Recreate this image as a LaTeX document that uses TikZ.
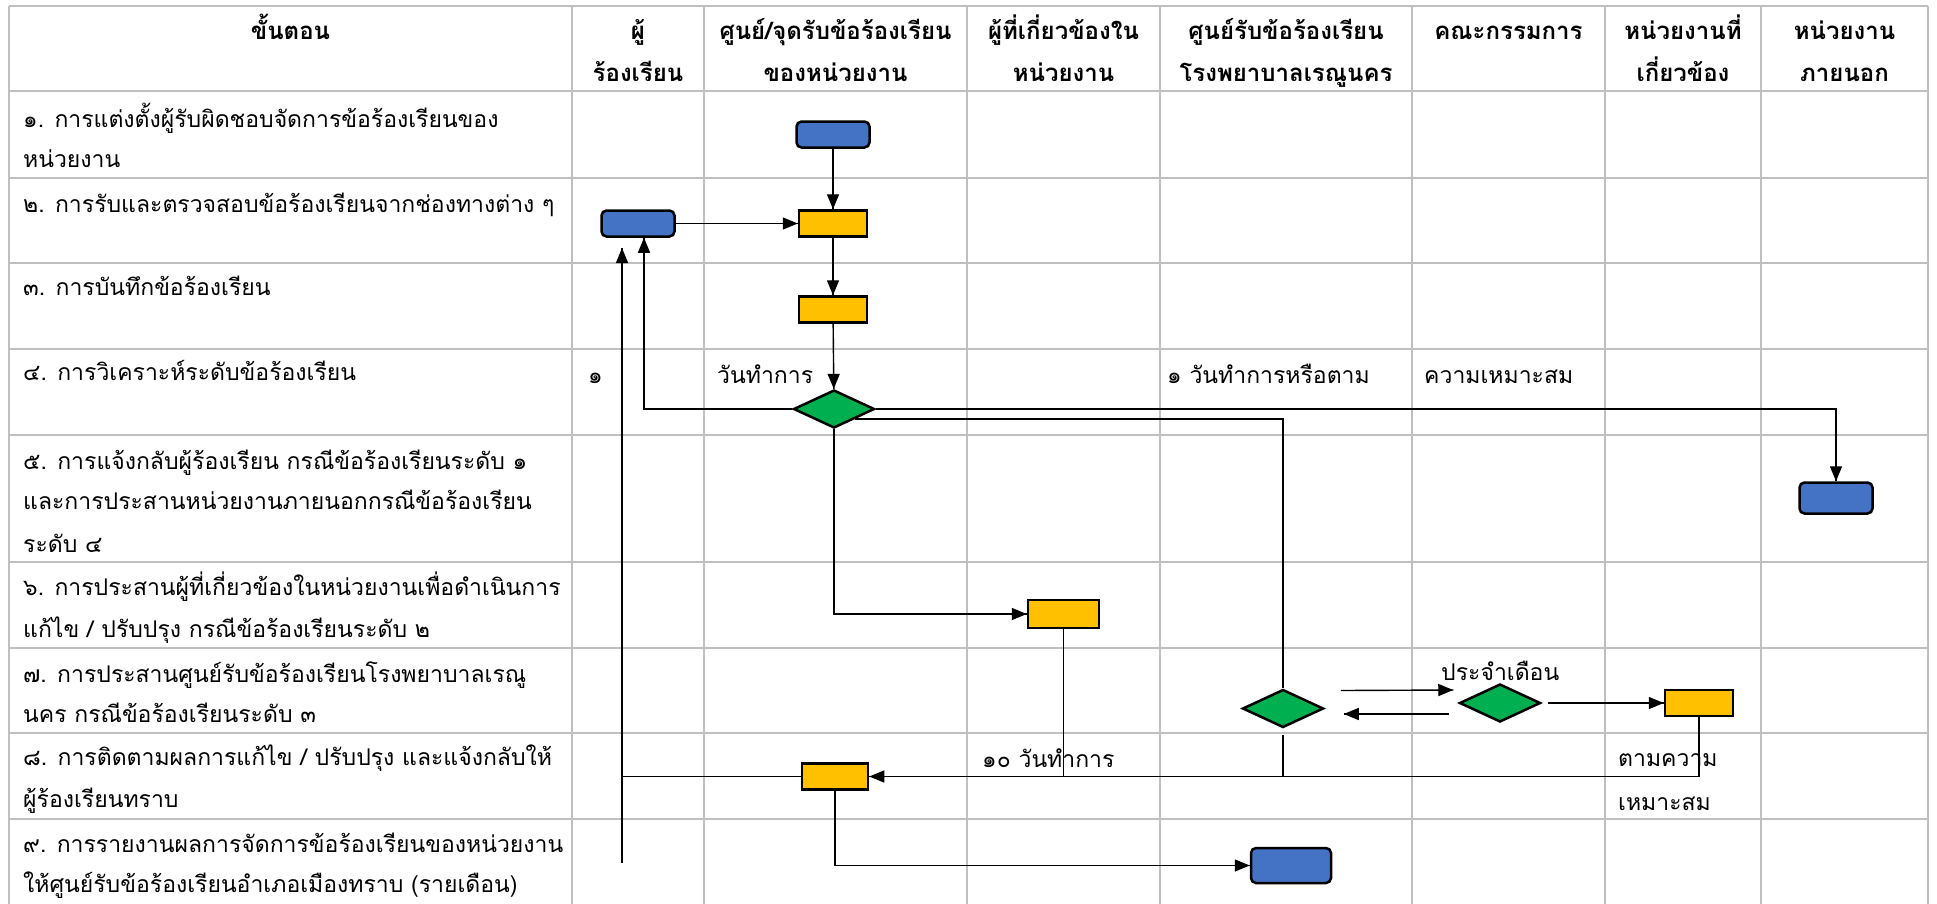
\documentclass[tikz,border=0pt]{standalone}
\usepackage{fontspec}
\newfontfamily\thaifont[Script=Thai]{Loma}
\usetikzlibrary{shapes.geometric, arrows.meta, decorations.markings, calc}
\definecolor{boxblue}{HTML}{4472C4}
\definecolor{boxyellow}{HTML}{FFC000}
\definecolor{boxgreen}{HTML}{00B050}
\definecolor{gridgray}{HTML}{BFBFBF}

\begin{document}
\begin{tikzpicture}[x=1pt, y=-1pt]
	\tikzstyle{grid_line} = [draw=gridgray, line width=2pt]
	\tikzstyle{head_text} = [font=\thaifont\bfseries\fontsize{24}{28}\selectfont, inner sep=0pt, anchor=base]
	\tikzstyle{row_text} = [font=\thaifont\fontsize{23}{27}\selectfont, inner sep=0pt, anchor=base west]
	\tikzstyle{blue_box} = [draw, line width=2.5pt, fill=boxblue, rounded corners=5pt, minimum width=73pt, minimum height=26pt, inner sep=0pt]
	\tikzstyle{yellow_box} = [draw, line width=2.5pt, fill=boxyellow, minimum width=68pt, minimum height=26pt, inner sep=0pt]
	\tikzstyle{green_dia} = [draw, line width=2.5pt, fill=boxgreen, diamond, minimum width=81pt, minimum height=38pt, inner sep=0pt]
	\tikzstyle{flow_arrow} = [line width=1.4pt, decoration={markings,mark=at position 1 with {\arrow{Triangle[length=15pt,width=12pt]}}},postaction={decorate}]
	\useasboundingbox (0,0) rectangle (1937,903);
	\fill[white] (0,0) rectangle (1937,903);

	% Table grid
	\foreach \gx in {9,572,704,967,1160,1412,1605,1761,1928}
		\draw[grid_line] (\gx,6) -- (\gx,910);
	\foreach \gy in {6,91,178,263,349,435,562,648,733,819}
		\draw[grid_line] (9,\gy) -- (1928,\gy);

	% Header
	\node[head_text] (h1) at (290.5,39) {ขั้นตอน};
	\node[head_text] (h2a) at (638,39) {ผู้};
	\node[head_text] (h2b) at (638,81) {ร้องเรียน};
	\node[head_text] (h3a) at (835.5,39) {ศูนย์/จุดรับข้อร้องเรียน};
	\node[head_text] (h3b) at (835.5,81) {ของหน่วยงาน};
	\node[head_text] (h4a) at (1063.5,39) {ผู้ที่เกี่ยวข้องใน};
	\node[head_text] (h4b) at (1063.5,81) {หน่วยงาน};
	\node[head_text] (h5a) at (1286,39) {ศูนย์รับข้อร้องเรียน};
	\node[head_text] (h5b) at (1286,81) {โรงพยาบาลเรณูนคร};
	\node[head_text] (h6) at (1508.5,39) {คณะกรรมการ};
	\node[head_text] (h7a) at (1683,39) {หน่วยงานที่};
	\node[head_text] (h7b) at (1683,81) {เกี่ยวข้อง};
	\node[head_text] (h8a) at (1844.5,39) {หน่วยงาน};
	\node[head_text] (h8b) at (1844.5,81) {ภายนอก};

	% Steps
	\node[row_text] (r1a) at (23,127) {๑. การแต่งตั้งผู้รับผิดชอบจัดการข้อร้องเรียนของ};
	\node[row_text] (r1b) at (23,167) {หน่วยงาน};
	\node[row_text] (r2) at (23,212) {๒. การรับและตรวจสอบข้อร้องเรียนจากช่องทางต่าง ๆ};
	\node[row_text] (r3) at (23,295) {๓. การบันทึกข้อร้องเรียน};
	\node[row_text] (r4) at (23,380) {๔. การวิเคราะห์ระดับข้อร้องเรียน};
	\node[row_text] (r5a) at (23,469) {๕. การแจ้งกลับผู้ร้องเรียน กรณีข้อร้องเรียนระดับ ๑};
	\node[row_text] (r5b) at (23,509) {และการประสานหน่วยงานภายนอกกรณีข้อร้องเรียน};
	\node[row_text] (r5c) at (23,552) {ระดับ ๔};
	\node[row_text] (r6a) at (23,595) {๖. การประสานผู้ที่เกี่ยวข้องในหน่วยงานเพื่อดำเนินการ};
	\node[row_text] (r6b) at (23,637) {แก้ไข / ปรับปรุง กรณีข้อร้องเรียนระดับ ๒};
	\node[row_text] (r7a) at (23,682) {๗. การประสานศูนย์รับข้อร้องเรียนโรงพยาบาลเรณู};
	\node[row_text] (r7b) at (23,722) {นคร กรณีข้อร้องเรียนระดับ ๓};
	\node[row_text] (r8a) at (23,765) {๘. การติดตามผลการแก้ไข / ปรับปรุง และแจ้งกลับให้};
	\node[row_text] (r8b) at (23,807) {ผู้ร้องเรียนทราบ};
	\node[row_text] (r9a) at (23,852) {๙. การรายงานผลการจัดการข้อร้องเรียนของหน่วยงาน};
	\node[row_text] (r9b) at (23,892) {ให้ศูนย์รับข้อร้องเรียนอำเภอเมืองทราบ (รายเดือน)};

	% Time notes
	\node[row_text] (t4a) at (588,383) {๑};
	\node[row_text] (t4b) at (717,383) {วันทำการ};
	\node[row_text] (t4c) at (1167,383) {๑ วันทำการหรือตาม};
	\node[row_text] (t4d) at (1424,383) {ความเหมาะสม};
	\node[row_text] (t7) at (1441,680) {ประจำเดือน};
	\node[row_text] (t8a) at (982,767) {๑๐ วันทำการ};
	\node[row_text] (t8b) at (1618,766) {ตามความ};
	\node[row_text] (t8c) at (1618,810) {เหมาะสม};

	% Flow shapes
	\node[blue_box] (b1) at (833,134.5) {};
	\node[blue_box] (b2) at (638,223.5) {};
	\node[yellow_box] (y2) at (833,223.5) {};
	\node[yellow_box] (y3) at (833,309.5) {};
	\node[green_dia] (d4) at (834,409) {};
	\node[blue_box, minimum height=31pt] (b5) at (1836,498) {};
	\node[yellow_box, minimum width=71pt, minimum height=28pt] (y6) at (1063.5,614) {};
	\node[green_dia] (d7a) at (1283,708.5) {};
	\node[green_dia] (d7b) at (1500,703) {};
	\node[yellow_box] (y7) at (1699,703) {};
	\node[yellow_box, minimum width=66pt] (y8) at (835,776.5) {};
	\node[blue_box, minimum width=80pt, minimum height=35pt] (b9) at (1291,865.5) {};
	\coordinate (cl_bot) at (622,863);
	\coordinate (cl_top) at (622,248);

	% Connect shapes
	\draw[flow_arrow] (b1) -- (y2);
	\draw[flow_arrow] (b2) -- (y2);
	\draw[flow_arrow] (y2) -- (y3);
	\draw[flow_arrow] (y3) -- (d4);
	\draw[flow_arrow] (d4.west) -| ($(b2.south)+(6,0)$);
	\draw[flow_arrow] (d4.east) -| (b5.north);
	\draw[flow_arrow] (d4.south) |- (y6.west);
	\draw[line width=1.4pt] (d4.south east) -| (d7a.north);
	\draw[flow_arrow] ($(d7a.east)+(16,-18)$) -- ($(d7b.west)+(-5,-13)$);
	\draw[flow_arrow] ($(d7b.west)+(-9,11)$) -- ($(d7a.east)+(19,5.5)$);
	\draw[flow_arrow] ($(d7b.east)+(6,0)$) -- (y7.west);
	\draw[flow_arrow] (y7.south) |- (y8.east);
	\draw[line width=1.4pt] (y6.south) -- (y6.south |- y8.east);
	\draw[line width=1.4pt] ($(d7a.south)+(0,6)$) -- (d7a.south |- y8.east);
	\draw[line width=1.4pt] (y8.west) -- (cl_bot |- y8.west);
	\draw[flow_arrow] (cl_bot) -- (cl_top);
	\draw[flow_arrow] (y8.south) |- (b9.west);
\end{tikzpicture}
\end{document}
